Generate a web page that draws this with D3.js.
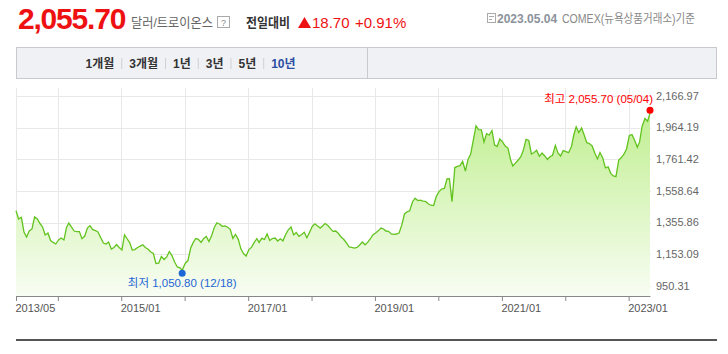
<!DOCTYPE html>
<html>
<head>
<meta charset="utf-8">
<script src="https://cdn.jsdelivr.net/npm/d3@7"></script>
<style>
  body { margin: 0; background: #fff; }
  svg { display: block; font-family: "Liberation Sans", "Noto Sans CJK KR", sans-serif; }
</style>
</head>
<body>
<div id="chart"></div>
<script>
// gold price, ~twice a month
const dates = [
  "2013-05-05","2013-05-20","2013-06-05","2013-06-20","2013-07-05","2013-07-20","2013-08-05","2013-08-20",
  "2013-09-05","2013-09-20","2013-10-05","2013-10-20","2013-11-05","2013-11-20","2013-12-05","2013-12-20",
  "2014-01-05","2014-01-20","2014-02-05","2014-02-20","2014-03-05","2014-03-20","2014-04-05","2014-04-20",
  "2014-05-05","2014-05-20","2014-06-05","2014-06-20","2014-07-05","2014-07-20","2014-08-05","2014-08-20",
  "2014-09-05","2014-09-20","2014-10-05","2014-10-20","2014-11-05","2014-11-20","2014-12-05","2014-12-20",
  "2015-01-05","2015-01-20","2015-02-05","2015-02-20","2015-03-05","2015-03-20","2015-04-05","2015-04-20",
  "2015-05-05","2015-05-20","2015-06-05","2015-06-20","2015-07-05","2015-07-20","2015-08-05","2015-08-20",
  "2015-09-05","2015-09-20","2015-10-05","2015-10-20","2015-11-05","2015-11-20","2015-12-05","2015-12-18",
  "2016-01-05","2016-01-20","2016-02-05","2016-02-20","2016-03-05","2016-03-20","2016-04-05","2016-04-20",
  "2016-05-05","2016-05-20","2016-06-05","2016-06-20","2016-07-05","2016-07-20","2016-08-05","2016-08-20",
  "2016-09-05","2016-09-20","2016-10-05","2016-10-20","2016-11-05","2016-11-20","2016-12-05","2016-12-20",
  "2017-01-05","2017-01-20","2017-02-05","2017-02-20","2017-03-05","2017-03-20","2017-04-05","2017-04-20",
  "2017-05-05","2017-05-20","2017-06-05","2017-06-20","2017-07-05","2017-07-20","2017-08-05","2017-08-20",
  "2017-09-05","2017-09-20","2017-10-05","2017-10-20","2017-11-05","2017-11-20","2017-12-05","2017-12-20",
  "2018-01-05","2018-01-20","2018-02-05","2018-02-20","2018-03-05","2018-03-20","2018-04-05","2018-04-20",
  "2018-05-05","2018-05-20","2018-06-05","2018-06-20","2018-07-05","2018-07-20","2018-08-05","2018-08-20",
  "2018-09-05","2018-09-20","2018-10-05","2018-10-20","2018-11-05","2018-11-20","2018-12-05","2018-12-20",
  "2019-01-05","2019-01-20","2019-02-05","2019-02-20","2019-03-05","2019-03-20","2019-04-05","2019-04-20",
  "2019-05-05","2019-05-20","2019-06-05","2019-06-20","2019-07-05","2019-07-20","2019-08-05","2019-08-20",
  "2019-09-05","2019-09-20","2019-10-05","2019-10-20","2019-11-05","2019-11-20","2019-12-05","2019-12-20",
  "2020-01-05","2020-01-20","2020-02-05","2020-02-20","2020-03-05","2020-03-20","2020-04-05","2020-04-20",
  "2020-05-05","2020-05-20","2020-06-05","2020-06-20","2020-07-05","2020-07-20","2020-08-05","2020-08-20",
  "2020-09-05","2020-09-20","2020-10-05","2020-10-20","2020-11-05","2020-11-20","2020-12-05","2020-12-20",
  "2021-01-05","2021-01-20","2021-02-05","2021-02-20","2021-03-05","2021-03-20","2021-04-05","2021-04-20",
  "2021-05-05","2021-05-20","2021-06-05","2021-06-20","2021-07-05","2021-07-20","2021-08-05","2021-08-20",
  "2021-09-05","2021-09-20","2021-10-05","2021-10-20","2021-11-05","2021-11-20","2021-12-05","2021-12-20",
  "2022-01-05","2022-01-20","2022-02-05","2022-02-20","2022-03-05","2022-03-20","2022-04-05","2022-04-20",
  "2022-05-05","2022-05-20","2022-06-05","2022-06-20","2022-07-05","2022-07-20","2022-08-05","2022-08-20",
  "2022-09-05","2022-09-20","2022-10-05","2022-10-20","2022-11-05","2022-11-20","2022-12-05","2022-12-20",
  "2023-01-05","2023-01-20","2023-02-05","2023-02-20","2023-03-05","2023-03-20","2023-04-05","2023-04-20",
  "2023-05-04"
];
const prices = [
  1432,1379,1390,1296,1264,1302,1315,1392,1379,1350,1328,1277,1289,1241,1229,1219,
  1245,1257,1245,1325,1353,1328,1302,1298,1298,1253,1270,1321,1336,1312,1305,1296,1259,1225,1219,1232,1187,1197,1216,1197,
  1181,1277,1251,1225,1181,1183,1197,1205,1214,1197,1185,1168,1158,1094,1097,1139,1120,1136,1171,1145,1102,1072,1066,1050.80,
  1096,1113,1193,1229,1254,1249,1229,1255,1267,1235,1273,1325,1355,1347,1332,1334,1326,1313,1255,1280,1249,1188,1158,1142,
  1183,1197,1229,1253,1229,1255,1248,1283,1241,1254,1257,1238,1252,1239,1280,1310,1328,1277,1293,1268,1280,1294,1259,1293,
  1331,1348,1334,1321,1334,1350,1337,1317,1300,1302,1286,1264,1249,1227,1200,1198,1193,1197,1213,1232,1214,1229,1251,1277,
  1289,1303,1321,1315,1302,1300,1283,1281,1283,1289,1341,1411,1425,1431,1488,1512,1497,1499,1493,1491,1475,1467,1465,1523,
  1554,1571,1575,1635,1636,1490,1708,1715,1720,1747,1686,1760,1793,1881,1974,1951,1949,1871,1924,1916,1945,1852,1843,1891,
  1872,1846,1833,1758,1718,1736,1756,1777,1820,1888,1881,1795,1804,1818,1780,1801,1782,1760,1777,1787,1850,1801,1782,1816,
  1810,1803,1840,1921,1969,1932,1961,1916,1867,1862,1846,1801,1763,1804,1769,1706,1712,1671,1654,1650,1756,1772,1793,1827,
  1913,1919,1881,1838,1872,1974,2022,2004,
  2055.70
];
const yTicks = [950.31, 1153.09, 1355.86, 1558.64, 1761.42, 1964.19, 2166.97];
const xTickDates = ["2013-05-05","2014-01-01","2015-01-01","2016-01-01","2017-01-01","2018-01-01",
                    "2019-01-01","2020-01-01","2021-01-01","2022-01-01","2023-01-01"];
const xTickLabels = ["2013/05","","2015/01","","2017/01","","2019/01","","2021/01","","2023/01"];
const periodTabs = ["1개월","3개월","1년","3년","5년","10년"];
const activeTab = "10년";
const lastPrice = 2055.70, prevChange = 18.70, prevChangePct = 0.91;
const unitLabel = "달러/트로이온스";
const asOfDate = "2023.05.04", sourceLabel = "COMEX(뉴욕상품거래소)기준";

const W = 728, H = 354;
const svg = d3.select("#chart").append("svg").attr("width", W).attr("height", H);
const parse = d3.timeParse("%Y-%m-%d");
const fmt2 = d3.format(",.2f");
const md = d3.timeFormat("%m/%d");
const data = dates.map((d, i) => ({ date: parse(d), value: prices[i] }));

// ---- header
const red = "#ee1111";
svg.append("text").attr("x", 18).attr("y", 29)
  .attr("font-size", 30).attr("font-weight", "bold").attr("letter-spacing", -1.2)
  .attr("fill", red).text(d3.format(",.2f")(lastPrice));
svg.append("text").attr("x", 131).attr("y", 26.5)
  .attr("font-size", 13).attr("fill", "#666")
  .attr("textLength", 82).attr("lengthAdjust", "spacingAndGlyphs").text(unitLabel);
svg.append("rect").attr("x", 217.5).attr("y", 16.5).attr("width", 12).attr("height", 11)
  .attr("fill", "#fff").attr("stroke", "#aaa");
svg.append("text").attr("x", 223.5).attr("y", 25.5).attr("text-anchor", "middle")
  .attr("font-size", 9).attr("fill", "#888").text("?");
svg.append("text").attr("x", 246).attr("y", 27)
  .attr("font-size", 13).attr("font-weight", "bold").attr("fill", "#333")
  .attr("textLength", 44).attr("lengthAdjust", "spacingAndGlyphs").text("전일대비");
svg.append("path").attr("d", "M298,28 L304.5,17 L311,28 Z").attr("fill", red);
svg.append("text").attr("x", 312).attr("y", 28)
  .attr("font-size", 15).attr("fill", red).text(prevChange.toFixed(2));
svg.append("text").attr("x", 355).attr("y", 28)
  .attr("font-size", 15).attr("fill", red).text("+" + prevChangePct.toFixed(2) + "%");

// date icon + source
const ic = svg.append("g").attr("transform", "translate(487,13)").attr("fill", "none").attr("stroke", "#aaa");
ic.append("rect").attr("x", 0.5).attr("y", 0.5).attr("width", 8).attr("height", 9);
ic.append("line").attr("x1", 2).attr("x2", 7).attr("y1", 3.5).attr("y2", 3.5);
ic.append("line").attr("x1", 2).attr("x2", 5).attr("y1", 6.5).attr("y2", 6.5);
svg.append("text").attr("x", 497).attr("y", 23)
  .attr("font-size", 12).attr("font-weight", "bold").attr("fill", "#8c929c").text(asOfDate);
svg.append("text").attr("x", 562).attr("y", 23)
  .attr("font-size", 12).attr("fill", "#888")
  .attr("textLength", 133).attr("lengthAdjust", "spacingAndGlyphs").text(sourceLabel);

// ---- period tabs
svg.append("rect").attr("x", 16.5).attr("y", 47.5).attr("width", 700).attr("height", 31)
  .attr("fill", "#f0f1f5").attr("stroke", "#c8cad0");
svg.append("line").attr("x1", 367.5).attr("x2", 367.5).attr("y1", 48).attr("y2", 78).attr("stroke", "#c8cad0");
let tx = 85.5;
periodTabs.forEach((t, i) => {
  const el = svg.append("text").attr("x", tx).attr("y", 67.5)
    .attr("font-size", 12).attr("font-weight", "bold")
    .attr("fill", t === activeTab ? "#2b4ea2" : "#333").text(t);
  const w = el.node().getComputedTextLength();
  if (i < periodTabs.length - 1) {
    svg.append("line").attr("x1", tx + w + 7.5).attr("x2", tx + w + 7.5)
      .attr("y1", 58).attr("y2", 69).attr("stroke", "#d0d0d0");
  }
  tx += w + 15;
});

// ---- chart
const x = d3.scaleTime().domain(d3.extent(data, d => d.date)).range([16, 650]);
const y = d3.scaleLinear().domain([yTicks[0], yTicks[yTicks.length - 1]]).range([286, 95.8]);
const baseY = 296;

const defs = svg.append("defs");
const grad = defs.append("linearGradient").attr("id", "fillGrad")
  .attr("gradientUnits", "userSpaceOnUse").attr("x1", 0).attr("x2", 0).attr("y1", 100).attr("y2", baseY);
grad.append("stop").attr("offset", 0).attr("stop-color", "#bdee8b");
grad.append("stop").attr("offset", 1).attr("stop-color", "#f8fdf3");

const grid = svg.append("g").attr("stroke", "#e8e8e8").attr("shape-rendering", "crispEdges");
grid.selectAll(".h").data(yTicks).join("line")
  .attr("x1", 16).attr("x2", 651).attr("y1", d => Math.round(y(d)) + 0.5).attr("y2", d => Math.round(y(d)) + 0.5);
grid.selectAll(".v").data(xTickDates).join("line")
  .attr("x1", d => Math.round(x(parse(d))) + 0.5).attr("x2", d => Math.round(x(parse(d))) + 0.5)
  .attr("y1", 88).attr("y2", baseY);

svg.append("path").datum(data)
  .attr("fill", "url(#fillGrad)")
  .attr("d", d3.area().x(d => x(d.date)).y0(baseY).y1(d => y(d.value)));
svg.append("path").datum(data)
  .attr("fill", "none").attr("stroke", "#62c31f").attr("stroke-width", 1.3)
  .attr("d", d3.line().x(d => x(d.date)).y(d => y(d.value)));

// x axis
const xAxis = svg.append("g").attr("transform", `translate(0,${baseY})`)
  .call(d3.axisBottom(x).tickValues(xTickDates.map(parse)).tickSize(5).tickSizeOuter(0)
    .tickFormat((d, i) => xTickLabels[i]));
xAxis.select(".domain").attr("stroke", "#888");
xAxis.selectAll(".tick line").attr("stroke", "#888");
xAxis.selectAll(".tick text").attr("text-anchor", "start").attr("x", -1)
  .attr("font-family", "Liberation Sans, sans-serif").attr("font-size", 11).attr("fill", "#555");

// y labels on the right
svg.append("g").selectAll("text").data(yTicks).join("text")
  .attr("x", 656).attr("y", d => y(d)).attr("dy", "0.35em")
  .attr("font-size", 11).attr("fill", "#666").text(d => fmt2(d));

// high / low markers
const hi = data.reduce((a, b) => (b.value > a.value ? b : a));
const lo = data.reduce((a, b) => (b.value < a.value ? b : a));
svg.append("circle").attr("cx", x(hi.date)).attr("cy", y(hi.value) - 3).attr("r", 3.5).attr("fill", "#f00");
svg.append("text").attr("x", x(hi.date) + 3).attr("y", 103).attr("text-anchor", "end")
  .attr("font-size", 11.5).attr("fill", "#f00").text(`최고 ${fmt2(hi.value)} (${md(hi.date)})`);
svg.append("circle").attr("cx", x(lo.date)).attr("cy", y(lo.value) + 3).attr("r", 3.5).attr("fill", "#1f66d6");
svg.append("text").attr("x", x(lo.date)).attr("y", y(lo.value) + 17).attr("text-anchor", "middle")
  .attr("font-size", 11.5).attr("fill", "#1f66d6").text(`최저 ${fmt2(lo.value)} (${md(lo.date)})`);

// bottom rule
svg.append("rect").attr("x", 16).attr("y", 339).attr("width", 701).attr("height", 2).attr("fill", "#555");
</script>
</body>
</html>
